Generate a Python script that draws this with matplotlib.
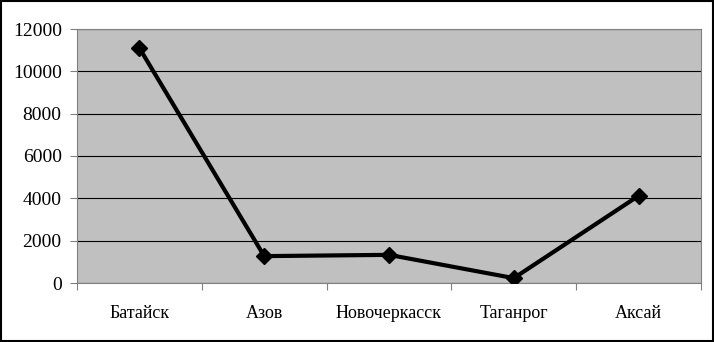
import matplotlib.pyplot as plt
from matplotlib.patches import Rectangle

cities = ['Батайск', 'Азов', 'Новочеркасск', 'Таганрог', 'Аксай']
values = [11100, 1270, 1330, 230, 4120]
yticks = [0, 2000, 4000, 6000, 8000, 10000, 12000]

plt.rcParams['font.family'] = ['Liberation Serif', 'DejaVu Serif']

fig = plt.figure(figsize=(7.14, 3.42), dpi=100)
ax = fig.add_axes([77 / 714, 59 / 342, 624 / 714, 254 / 342])
ax.set_facecolor('#c0c0c0')

x = list(range(len(cities)))
ax.plot(x, values, color='black', lw=3, marker='D', ms=8, zorder=3)

ax.set_xlim(-0.5, len(cities) - 0.5)
ax.set_ylim(0, 12000)
ax.set_yticks(yticks)
ax.set_yticklabels([str(v) for v in yticks], fontsize=14)
ax.yaxis.grid(True, color='black', lw=0.8)
ax.set_axisbelow(True)

# category labels centred, ticks on category boundaries
ax.set_xticks([i - 0.5 for i in range(len(cities) + 1)])
ax.set_xticklabels([])
ax.set_xticks(x, minor=True)
ax.set_xticklabels(cities, minor=True, fontsize=13)
ax.tick_params(axis='x', which='minor', length=0, pad=16)
ax.tick_params(axis='x', which='major', length=5, color='#808080')
ax.tick_params(axis='y', length=5, color='#808080', pad=6)

for side in ['top', 'right', 'left', 'bottom']:
    ax.spines[side].set_color('#808080')

fig.patches.append(Rectangle((0.002, 0.003), 0.996, 0.994, transform=fig.transFigure,
                             fill=False, edgecolor='black', lw=1.5))

plt.savefig('out.png', dpi=100)
